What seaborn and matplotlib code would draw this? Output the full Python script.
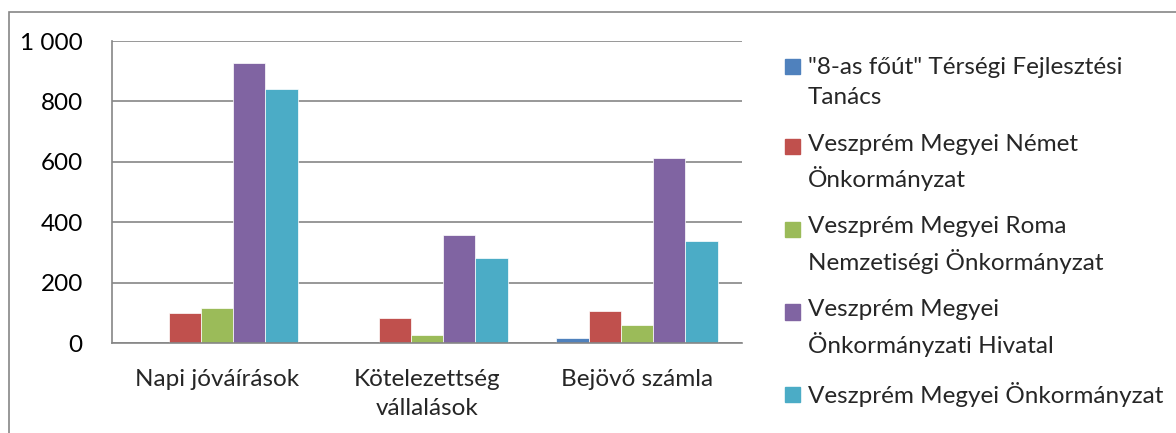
import matplotlib
matplotlib.use("Agg")
from matplotlib import pyplot as plt
from matplotlib import patches as mpatches
from matplotlib.legend_handler import HandlerPatch
from matplotlib.ticker import FuncFormatter
import pandas as pd
import seaborn as sns

categories = ["Napi jóváírások", "Kötelezettség\nvállalások", "Bejövő számla"]
series = [
    '"8-as főút" Térségi Fejlesztési\nTanács',
    "Veszprém Megyei Német\nÖnkormányzat",
    "Veszprém Megyei Roma\nNemzetiségi Önkormányzat",
    "Veszprém Megyei\nÖnkormányzati Hivatal",
    "Veszprém Megyei Önkormányzat",
]
ter_fejl = [0, 0, 18]
nemet = [100, 84, 106]
roma = [116, 25, 60]
hivatal = [926, 359, 614]
megyei = [840, 282, 337]
colors = ["#4F81BD", "#C0504D", "#9BBB59", "#8064A2", "#4BACC6"]
yticks = [0, 200, 400, 600, 800, 1000]

GRAY = "#868686"
W, H = 1176, 433
FS = 17.5


def _long_table():
    rows = []
    for name, vals in zip(series, [ter_fejl, nemet, roma, hivatal, megyei]):
        for cat, v in zip(categories, vals):
            rows.append({"kategoria": cat, "sorozat": name, "ertek": v})
    return pd.DataFrame(rows)


def _top_square(legend, orig_handle, xdescent, ydescent, width, height, fontsize):
    # excel puts the marker next to the first line of a wrapped label
    s = 0.62 * fontsize
    lift = 0.66 * fontsize if "\n" in orig_handle.get_label() else 0
    return mpatches.Rectangle(
        (-xdescent + width - s, -ydescent + (height - s) / 2 + lift), s, s
    )


df = _long_table()

plt.close("all")
sns.set_theme(style="white")
plt.rcParams["font.family"] = ["Lato", "DejaVu Sans"]
plt.rcParams["font.size"] = FS

fig = plt.figure(figsize=(W / 100, H / 100), dpi=100)
ax = fig.add_axes([112 / W, 1 - 343 / H, (742 - 112) / W, (343 - 41) / H])

sns.barplot(
    data=df,
    x="kategoria",
    y="ertek",
    hue="sorozat",
    order=categories,
    hue_order=series,
    palette=colors,
    saturation=1,
    width=0.767,
    edgecolor="white",
    linewidth=0.5,
    legend=False,
    ax=ax,
)

ax.set_xlim(-0.5, 2.5)
ax.set_ylim(0, 1000)
ax.set_yticks(yticks)
ax.yaxis.set_major_formatter(FuncFormatter(lambda v, _: f"{v:,.0f}".replace(",", " ")))
ax.set_xticks([-0.5, 0.5, 1.5, 2.5], ["", "", "", ""])
ax.set_xticks([0, 1, 2], categories, minor=True)
ax.tick_params(axis="x", which="major", length=9, width=1.2, color=GRAY, direction="out")
ax.tick_params(axis="x", which="minor", length=0, pad=19, labelsize=FS)
ax.tick_params(axis="y", length=8, width=1.2, color=GRAY, direction="out", pad=13, labelsize=FS)
ax.tick_params(axis="both", labelcolor="black")
plt.setp(ax.get_xticklabels(minor=True), linespacing=1.45)
ax.set_xlabel("")
ax.set_ylabel("")

ax.yaxis.grid(True, color=GRAY, linewidth=1.2)
ax.set_axisbelow(True)
for side in ["top", "right"]:
    ax.spines[side].set_visible(False)
for side in ["left", "bottom"]:
    ax.spines[side].set_color(GRAY)
    ax.spines[side].set_linewidth(1.2)

handles = [mpatches.Patch(color=c, label=s) for c, s in zip(colors, series)]
leg = fig.legend(
    handles=handles,
    loc="upper left",
    bbox_to_anchor=(785 / W, 1 - 57 / H),
    frameon=False,
    fontsize=FS,
    handlelength=0.62,
    handleheight=0.7,
    handletextpad=0.33,
    labelspacing=1.04,
    borderpad=0,
    borderaxespad=0,
    handler_map={mpatches.Patch: HandlerPatch(patch_func=_top_square)},
)
plt.setp(leg.get_texts(), linespacing=1.55)

# chart area border, cut by the picture's right and bottom edge
fig.patches.append(
    mpatches.Rectangle(
        (9 / W, -0.2), 1.2, 1.2 - 11.5 / H,
        transform=fig.transFigure, fill=False, edgecolor=GRAY, linewidth=1.2,
    )
)

fig.savefig("out.png", dpi=100)
